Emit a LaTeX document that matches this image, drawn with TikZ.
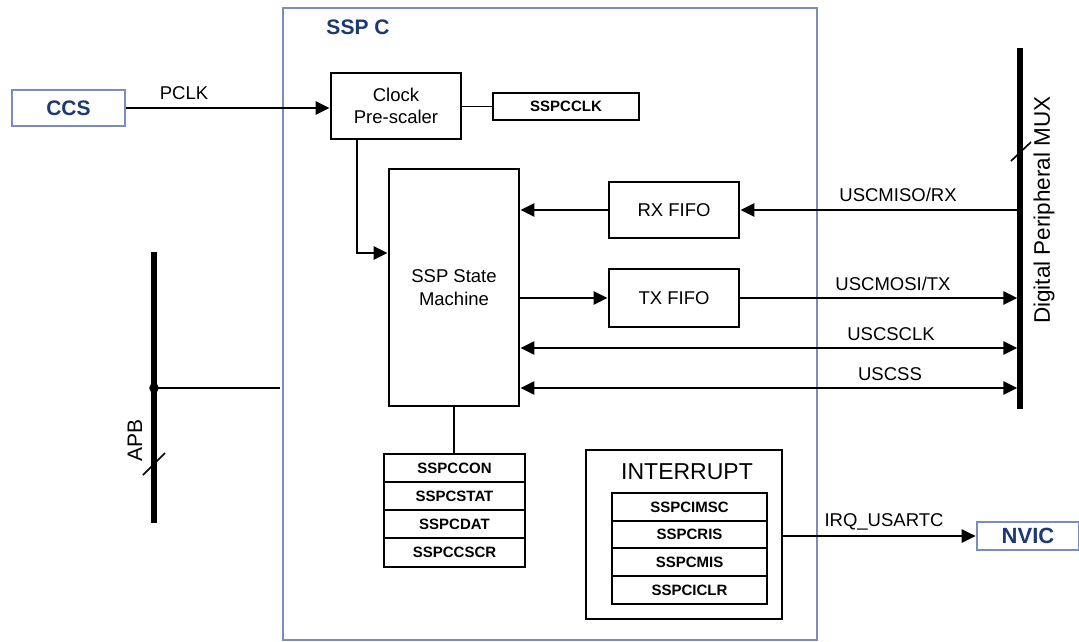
\documentclass[tikz,border=0pt]{standalone}
\usepackage{fontspec}
\setmainfont{Liberation Sans}
\usetikzlibrary{arrows.meta,calc}
\definecolor{boxblue}{HTML}{7A8EBE}
\definecolor{txtblue}{HTML}{1B3A73}
\tikzset{
  blk/.style={draw=black,line width=2.8pt,rectangle,inner sep=0pt,align=center,font=\fontsize{18.5}{22.5}\selectfont},
  reg/.style={draw=black,line width=1.4pt,rectangle,inner sep=0pt,font=\fontsize{15}{16}\selectfont\bfseries},
  bluebox/.style={draw=boxblue,line width=2.6pt,rectangle,inner sep=0pt,text=txtblue,font=\fontsize{21}{24}\selectfont\bfseries},
  conn/.style={line width=2.7pt,-{Triangle[length=14pt,width=13pt]}},
  conn2/.style={line width=2.7pt,{Triangle[length=14pt,width=13pt]}-{Triangle[length=14pt,width=13pt]}},
  thin/.style={line width=1.3pt},
  bar/.style={line width=5.5pt},
  lbl/.style={inner sep=0pt,font=\fontsize{18.5}{22}\selectfont}
}
\begin{document}
\begin{tikzpicture}[x=1pt,y=-1pt]
\useasboundingbox (0,0) rectangle (1079,641);
% SSP C container
\draw[draw=boxblue,line width=2.2pt] (283,8) rectangle (817,640);
\node[lbl,text=txtblue,font=\fontsize{21}{24}\selectfont\bfseries] (sspc) at (358,27) {SSP C};
% external blocks
\node[bluebox,minimum width=113pt,minimum height=36pt] (ccs) at (68.5,108) {CCS};
\node[bluebox,minimum width=102pt,minimum height=28pt,font=\fontsize{22}{24}\selectfont\bfseries] (nvic) at (1028,536) {NVIC};
% inner blocks
\node[blk,minimum width=130pt,minimum height=66pt] (clock) at (396,106) {Clock\\Pre-scaler};
\node[reg,minimum width=146pt,minimum height=27pt,line width=1.3pt] (sspcclk) at (566,106.5) {SSPCCLK};
\node[blk,minimum width=130pt,minimum height=237pt] (sm) at (454,287.5) {SSP State\\Machine};
\node[blk,minimum width=130pt,minimum height=56pt] (rx) at (674,210) {RX FIFO};
\node[blk,minimum width=130pt,minimum height=58pt] (tx) at (674,298) {TX FIFO};
% registers under state machine
\node[reg,minimum width=141pt,minimum height=28pt] (r1) at (454.5,468) {SSPCCON};
\node[reg,minimum width=141pt,minimum height=28pt] (r2) at (454.5,496) {SSPCSTAT};
\node[reg,minimum width=141pt,minimum height=28pt] (r3) at (454.5,524) {SSPCDAT};
\node[reg,minimum width=141pt,minimum height=29pt] (r4) at (454.5,552.5) {SSPCCSCR};
% interrupt block
\node[blk,minimum width=196pt,minimum height=169pt] (intbox) at (684,534.5) {};
\node[lbl,font=\fontsize{23}{26}\selectfont] (inttitle) at (687,472) {INTERRUPT};
\node[reg,minimum width=155pt,minimum height=28pt] (i1) at (689.5,507) {SSPCIMSC};
\node[reg,minimum width=155pt,minimum height=27pt] (i2) at (689.5,534.5) {SSPCRIS};
\node[reg,minimum width=155pt,minimum height=28pt] (i3) at (689.5,562) {SSPCMIS};
\node[reg,minimum width=155pt,minimum height=28pt] (i4) at (689.5,590) {SSPCICLR};
% buses
\coordinate (muxtop) at (1020,48);
\coordinate (muxbot) at (1020,409);
\draw[bar] (muxtop) -- (muxbot);
\draw[line width=1.6pt] (1011,161) -- (1031,142);
\node[lbl,rotate=90,font=\fontsize{22.5}{26}\selectfont] (muxlbl) at (1044,210) {Digital Peripheral MUX};
\coordinate (apbtop) at (154,252);
\coordinate (apbbot) at (154,523);
\coordinate (apbdot) at (154,388);
\coordinate (apbend) at (280,388);
\draw[bar] (apbtop) -- (apbbot);
\draw[line width=1.6pt] (143,475) -- (165,453);
\fill (apbdot) circle (4.8pt);
\draw[line width=2.6pt] (apbdot) -- (apbend);
\node[lbl,rotate=90,font=\fontsize{21}{24}\selectfont] (apblbl) at (135,440) {APB};
% connectors
\draw[conn] (ccs.east) -- (ccs.east -| clock.west);
\node[lbl] (pclk) at (184,93) {PCLK};
\draw[thin] (sspcclk.west -| clock.east) -- (sspcclk.west);
\coordinate (smin) at (389,253);
\draw[conn] (clock.south -| 357,0) -- (357,253) -- (smin -| sm.west);
\draw[conn] (rx.west) -- (rx.west -| sm.east);
\draw[conn] (rx.east -| muxtop) -- (rx.east);
\node[lbl] (misolbl) at (898,195) {USCMISO/RX};
\draw[conn] (sm.east |- tx.west) -- (tx.west);
\draw[conn,shorten >=2.7pt] (tx.east) -- (tx.east -| muxtop);
\node[lbl] (mosilbl) at (893,284) {USCMOSI/TX};
\coordinate (sclk) at (1020,348);
\coordinate (ss) at (1020,388);
\draw[conn2,shorten >=2.7pt] (sclk -| sm.east) -- (sclk);
\node[lbl] (sclklbl) at (891,334) {USCSCLK};
\draw[conn2,shorten >=2.7pt] (ss -| sm.east) -- (ss);
\node[lbl] (sslbl) at (890,374) {USCSS};
\draw[thin] (sm.south) -- (r1.north -| sm.south);
\draw[conn] (intbox.east |- nvic.west) -- (nvic.west);
\node[lbl] (irqlbl) at (884,522) {IRQ\_USARTC};
\end{tikzpicture}
\end{document}
